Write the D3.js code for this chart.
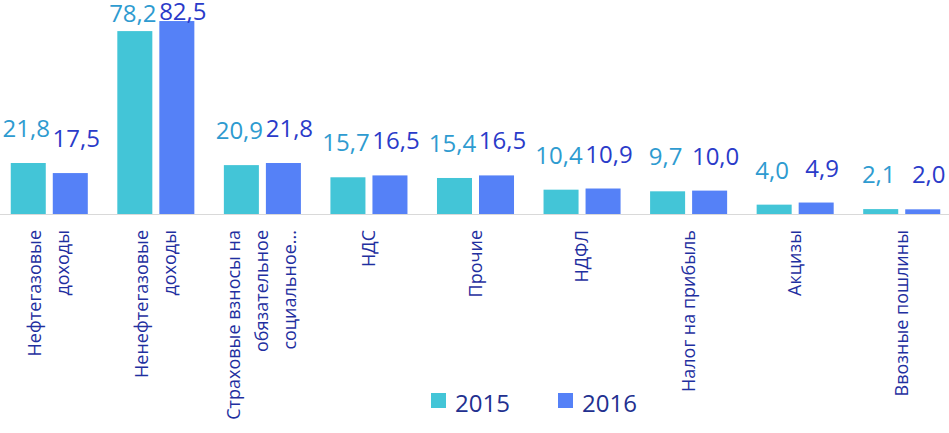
<!DOCTYPE html>
<html><head><meta charset="utf-8">
<script src="https://cdn.jsdelivr.net/npm/d3@7"></script>
<style>html,body{margin:0;padding:0;background:#fff;}svg{display:block;font-family:"Open Sans",sans-serif;}</style>
</head><body>
<svg id="c" width="949" height="433"></svg>
<script>
const categories = [
  ["Нефтегазовые","доходы"],
  ["Ненефтегазовые","доходы"],
  ["Страховые взносы на","обязательное","социальное..."],
  ["НДС"],
  ["Прочие"],
  ["НДФЛ"],
  ["Налог на прибыль"],
  ["Акцизы"],
  ["Ввозные пошлины"]
];
const seriesNames = ["2015","2016"];
const values2015 = [21.8, 78.2, 20.9, 15.7, 15.4, 10.4, 9.7, 4.0, 2.1];
const values2016 = [17.5, 82.5, 21.8, 16.5, 16.5, 10.9, 10.0, 4.9, 2.0];
const barColors = ["#43C5D7", "#5581F7"];
const labelColors = ["#2E9BD0", "#2A3BC9"];

const svg = d3.select("#c");
const W = 949;
const keys = categories.map((c,i)=>i);
const x0 = d3.scaleBand().domain(keys).range([-4, 955]).paddingInner(0.277).paddingOuter(0.1385);
const x1 = d3.scaleBand().domain(seriesNames).range([0, x0.bandwidth()]).paddingInner(0.1667);
const y = d3.scaleLinear().domain([0, 90]).range([214, 3.5]);
const data = [values2015, values2016];

// bars
seriesNames.forEach((s, si) => {
  svg.append("g").selectAll("rect").data(data[si]).join("rect")
    .attr("x", (d,i) => x0(i) + x1(s))
    .attr("y", d => y(d))
    .attr("width", x1.bandwidth())
    .attr("height", d => y(0) - y(d))
    .attr("fill", barColors[si]);
});

// axis line
svg.append("line").attr("x1", 0).attr("x2", W).attr("y1", y(0)+0.5).attr("y2", y(0)+0.5)
  .attr("stroke", "#d9d9d9").attr("stroke-width", 1);

// value labels
const fmt = v => d3.format(".1f")(v).replace(".", ",");
seriesNames.forEach((s, si) => {
  svg.append("g").selectAll("text").data(data[si]).join("text")
    .attr("x", (d,i) => x0(i) + x1(s) + x1.bandwidth()/2 + (si === 1 ? 6 : -2))
    .attr("y", d => Math.max(y(d) - 26, si === 1 ? 20 : 22))
    .attr("text-anchor", "middle")
    .attr("font-size", 24)
    .attr("fill", labelColors[si])
    .text(d => fmt(d));
});

// category labels
const lh = 28;
const cg = svg.append("g");
categories.forEach((lines, i) => {
  const cx = x0(i) + x0.bandwidth()/2;
  const n = lines.length;
  lines.forEach((ln, li) => {
    const off = (li - (n-1)/2) * lh + 6;
    cg.append("text")
      .attr("transform", `translate(${cx + off},230) rotate(-90)`)
      .attr("text-anchor", "end")
      .attr("font-size", 18)
      .attr("fill", "#1F2FA0")
      .text(ln);
  });
});

// legend
const lg = svg.append("g");
const legX = [431, 558];
seriesNames.forEach((s, si) => {
  lg.append("rect").attr("x", legX[si]).attr("y", 393).attr("width", 15).attr("height", 15).attr("fill", barColors[si]);
  lg.append("text").attr("x", legX[si] + 24).attr("y", 412).attr("font-size", 24).attr("fill", "#22308F").text(s);
});
</script>
</body></html>
